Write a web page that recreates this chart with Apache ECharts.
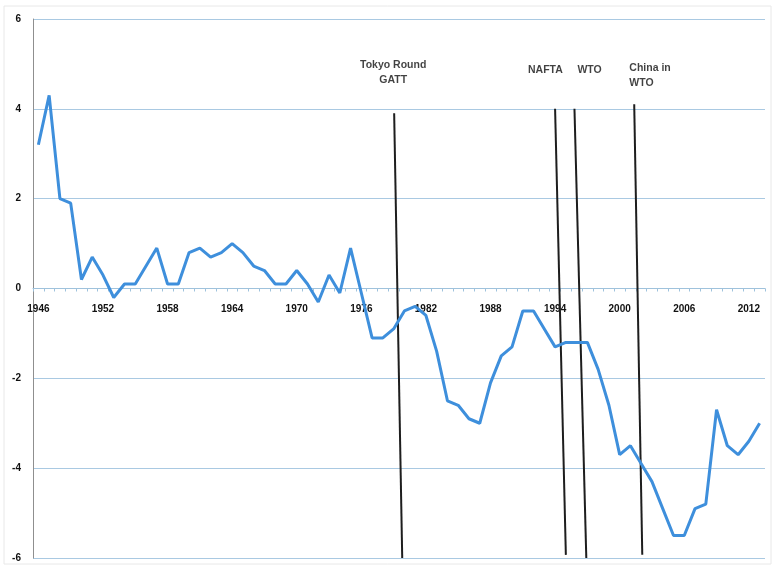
<!DOCTYPE html>
<html>
<head>
<meta charset="utf-8">
<script src="https://cdn.jsdelivr.net/npm/echarts@6/dist/echarts.min.js"></script>
<style>
html,body{margin:0;padding:0;background:#fff;}
#c{width:775px;height:567px;}
</style>
</head>
<body>
<div id="c"></div>
<script>
const years = ['1946','1947','1948','1949','1950','1951','1952','1953','1954','1955',
  '1956','1957','1958','1959','1960','1961','1962','1963','1964','1965',
  '1966','1967','1968','1969','1970','1971','1972','1973','1974','1975',
  '1976','1977','1978','1979','1980','1981','1982','1983','1984','1985',
  '1986','1987','1988','1989','1990','1991','1992','1993','1994','1995',
  '1996','1997','1998','1999','2000','2001','2002','2003','2004','2005',
  '2006','2007','2008','2009','2010','2011','2012','2013'];
const values = [3.2,4.3,2.0,1.9,0.2,0.7,0.3,-0.2,0.1,0.1,
  0.5,0.9,0.1,0.1,0.8,0.9,0.7,0.8,1.0,0.8,
  0.5,0.4,0.1,0.1,0.4,0.1,-0.3,0.3,-0.1,0.9,
  -0.1,-1.1,-1.1,-0.9,-0.5,-0.4,-0.6,-1.4,-2.5,-2.6,
  -2.9,-3.0,-2.1,-1.5,-1.3,-0.5,-0.5,-0.9,-1.3,-1.2,
  -1.2,-1.2,-1.8,-2.6,-3.7,-3.5,-3.9,-4.3,-4.9,-5.5,
  -5.5,-4.9,-4.8,-2.7,-3.5,-3.7,-3.4,-3.0];
// event marker lines: [top point, bottom point] in (year, value)
const tokyoLine = [[1979.05, 3.9], [1979.8, -6.0]];
const naftaLine = [[1994.0, 4.0], [1995.0, -5.93]];
const wtoLine = [[1995.8, 4.0], [1996.9, -6.0]];
const chinaLine = [[2001.35, 4.1], [2002.1, -5.93]];
// event labels
const centeredLabels = [
  {name: 'Tokyo Round\nGATT', value: [1978.96, 4.8]},
  {name: 'NAFTA', value: [1993.1, 4.86]},
  {name: 'WTO', value: [1997.2, 4.86]}
];
const leftLabels = [
  {name: 'China in\nWTO', value: [2000.9, 4.73]}
];
const yTicks = {min: -6, max: 6, interval: 2};

const chart = echarts.init(document.getElementById('c'), null, {renderer: 'canvas'});
const font = 'Liberation Sans, Arial, sans-serif';
const evLine = (data) => ({
  type: 'line', xAxisIndex: 1, data: data, symbol: 'none', silent: true,
  lineStyle: {color: '#1e1e1e', width: 2}, z: 3
});
const labelAxis = (offset) => ({
  type: 'category', data: years, boundaryGap: true, position: 'bottom', offset: offset,
  axisLine: {show: false, onZero: false}, axisTick: {show: false},
  axisLabel: {interval: 5, color: '#111', fontFamily: font, fontWeight: 'bold', fontSize: 10, margin: 10},
  splitLine: {show: false}
});
const option = {
  animation: false,
  backgroundColor: '#fff',
  graphic: [{
    type: 'rect', shape: {x: 4, y: 6, width: 767, height: 558},
    style: {fill: 'none', stroke: '#e8e8e8', lineWidth: 1}, z: -1
  }],
  grid: {left: 33, right: 10, top: 19, bottom: 9, containLabel: false},
  xAxis: [{
    type: 'category', data: years, boundaryGap: true, position: 'bottom',
    axisLine: {onZero: true, onZeroAxisIndex: 0, lineStyle: {color: '#9fc2dc', width: 1}},
    axisTick: {show: true, interval: 0, length: 3, lineStyle: {color: '#9fc2dc'}},
    axisLabel: {show: false},
    splitLine: {show: false}
  }, {
    type: 'value', min: 1945.5, max: 2013.5, show: false, position: 'top',
    axisLine: {onZero: false}
  }, labelAxis(0)],
  yAxis: {
    type: 'value', min: yTicks.min, max: yTicks.max, interval: yTicks.interval,
    axisLine: {show: true, onZero: false, lineStyle: {color: '#8f8f8f', width: 1}},
    axisTick: {show: false},
    axisLabel: {color: '#111', fontFamily: font, fontWeight: 'bold', fontSize: 10, margin: 12},
    splitLine: {show: true, lineStyle: {color: '#a9c9e2', width: 1}}
  },
  series: [{
    type: 'line', data: values, symbol: 'none', smooth: false,
    lineStyle: {color: '#3e8fdc', width: 3}, z: 4
  },
  evLine(tokyoLine), evLine(naftaLine), evLine(wtoLine), evLine(chinaLine),
  {
    type: 'scatter', xAxisIndex: 1, data: centeredLabels, symbolSize: 0, silent: true,
    label: {show: true, position: 'inside', formatter: '{b}', align: 'center', verticalAlign: 'middle',
      color: '#111', fontFamily: font, fontWeight: 'bold', fontSize: 10.5, lineHeight: 15}
  }, {
    type: 'scatter', xAxisIndex: 1, data: leftLabels, symbolSize: 0, silent: true,
    label: {show: true, position: 'inside', formatter: '{b}', align: 'left', verticalAlign: 'middle',
      color: '#111', fontFamily: font, fontWeight: 'bold', fontSize: 10.5, lineHeight: 15}
  }]
};
chart.setOption(option);
// move the year labels up to the zero line
const zeroY = chart.convertToPixel({yAxisIndex: 0}, 0);
const bottomY = chart.convertToPixel({yAxisIndex: 0}, yTicks.min);
option.xAxis[2] = labelAxis(zeroY - bottomY);
chart.setOption(option, true);
</script>
</body>
</html>
